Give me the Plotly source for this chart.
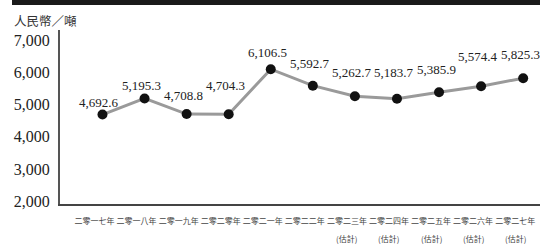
import plotly.graph_objects as go

years = ["二零一七年", "二零一八年", "二零一九年", "二零二零年", "二零二一年", "二零二二年",
         "二零二三年", "二零二四年", "二零二五年", "二零二六年", "二零二七年"]
estimated = [False, False, False, False, False, False, True, True, True, True, True]
prices = [4692.6, 5195.3, 4708.8, 4704.3, 6106.5, 5592.7, 5262.7, 5183.7, 5385.9, 5574.4, 5825.3]
label_shift = [12.5, 13, 19, 29, 17, 22.5, 23.5, 26, 23, 30, 23.5]
ytick_vals = [2000, 3000, 4000, 5000, 6000, 7000]
ytick_text = ["2,000", "3,000", "4,000", "5,000", "6,000", "7,000"]
unit = "人民幣／噸"
est_text = "(估計)"

W, H = 540, 245
ML, MR, MT, MB = 60, 0, 30, 41
plot_w = W - ML - MR
plot_h = H - MT - MB

xs = list(range(len(years)))

fig = go.Figure()
fig.add_trace(go.Scatter(
    x=xs, y=prices, mode="lines+markers",
    line=dict(color="#9a9a9a", width=3),
    marker=dict(color="#111111", size=10),
    hoverinfo="skip", showlegend=False,
))

CJK = "Noto Sans CJK TC, Noto Sans CJK SC, sans-serif"
SERIF = "Liberation Serif, Times New Roman, serif"

annotations = []
for i, v in enumerate(prices):
    annotations.append(dict(
        x=i, y=v, xref="x", yref="y", text=f"{v:,.1f}", showarrow=False,
        xanchor="center", yanchor="middle", yshift=label_shift[i], xshift=-3,
        font=dict(family=SERIF, size=13, color="#222222"),
    ))
for i, e in enumerate(estimated):
    if e:
        annotations.append(dict(
            x=i, y=0, xref="x", yref="paper", text=est_text, showarrow=False,
            xanchor="center", yanchor="middle", yshift=-34, xshift=-8,
            font=dict(family=CJK, size=8, color="#444444"),
        ))
annotations.append(dict(
    x=0, y=1, xref="paper", yref="paper", text=unit, showarrow=False,
    xanchor="left", yanchor="middle", xshift=-48, yshift=10,
    font=dict(family=CJK, size=12.5, color="#333333"),
))

fig.update_layout(
    width=W, height=H,
    margin=dict(l=ML, r=MR, t=MT, b=MB, pad=0),
    paper_bgcolor="white", plot_bgcolor="white",
    annotations=annotations,
    shapes=[dict(
        type="rect", xref="paper", yref="paper",
        x0=-(ML - 12) / plot_w, x1=1.0,
        y0=1 + (MT - 5) / plot_h, y1=1 + MT / plot_h,
        fillcolor="#1a1a1a", line=dict(width=0), layer="above",
    )],
    xaxis=dict(
        range=[-1.01, 10.40], tickmode="array", tickvals=xs, ticktext=years,
        showgrid=False, zeroline=False, showline=True, linecolor="#444444", linewidth=2,
        ticks="", tickfont=dict(family=CJK, size=8, color="#444444"),
        ticklabelshift=-8, ticklabelstandoff=8, fixedrange=True,
    ),
    yaxis=dict(
        range=[1906.5, 7327], tickmode="array", tickvals=ytick_vals, ticktext=ytick_text,
        showgrid=False, zeroline=False, showline=True, linecolor="#555555", linewidth=2,
        ticks="", tickfont=dict(family=SERIF, size=16, color="#222222"),
        ticklabelstandoff=5, fixedrange=True,
    ),
)

fig.write_html(
    "out.html",
    config={"displayModeBar": False},
    post_script="document.body.style.margin='0';document.body.style.overflow='hidden';",
)
